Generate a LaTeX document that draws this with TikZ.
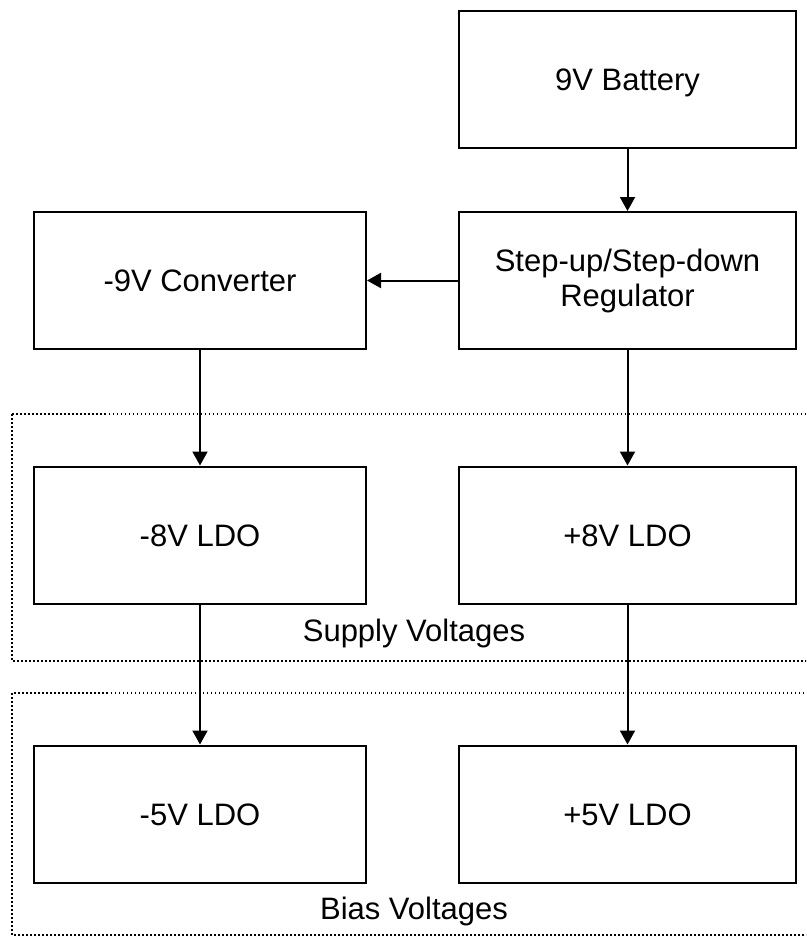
\documentclass[tikz,border=0pt]{standalone}
\usepackage{fontspec}
\setmainfont{Liberation Sans}
\usetikzlibrary{arrows.meta}
\tikzset{
  blockbox/.style={draw,line width=2pt,minimum height=137pt,inner sep=0pt,align=center,font=\fontsize{31}{36}\selectfont},
  leftbox/.style={blockbox,minimum width=332pt,text height=22pt,text depth=0pt},
  rightbox/.style={blockbox,minimum width=337pt},
  oneline/.style={text height=22pt,text depth=0pt},
  regionbox/.style={line width=1.5pt,dash pattern=on 1.5pt off 2.5pt},
  regionlabel/.style={font=\fontsize{31}{36}\selectfont},
  flow/.style={line width=2pt,-{Triangle[length=14pt,width=15pt]}},
}
\begin{document}
\begin{tikzpicture}[x=1pt,y=-1pt,line join=miter]
\useasboundingbox (0,0) rectangle (806,937);
\clip (0,0) rectangle (806,937);
% regions
\draw[regionbox] (12,414) rectangle (830,661);
\draw[regionbox] (12,693) rectangle (830,935);
\node[regionlabel] (supply) at (414,633) {Supply Voltages};
\node[regionlabel] (bias) at (414,911) {Bias Voltages};
% blocks
\node[rightbox,oneline] (battery) at (627.5,79) {9V Battery};
\node[rightbox] (regulator) at (627.5,280.5) {Step-up/Step-down\\[-1pt]Regulator};
\node[leftbox] (converter) at (200,280.5) {-9V Converter};
\node[leftbox] (ldoneg8) at (200,535) {-8V LDO};
\node[rightbox,oneline] (ldopos8) at (627.5,535) {+8V LDO};
\node[leftbox] (ldoneg5) at (200,814) {-5V LDO};
\node[rightbox,oneline] (ldopos5) at (627.5,814) {+5V LDO};
% connectors
\draw[flow] (battery) -- (regulator);
\draw[flow] (regulator) -- (converter);
\draw[flow] (converter) -- (ldoneg8);
\draw[flow] (regulator) -- (ldopos8);
\draw[flow] (ldoneg8) -- (ldoneg5);
\draw[flow] (ldopos8) -- (ldopos5);
\end{tikzpicture}
\end{document}
